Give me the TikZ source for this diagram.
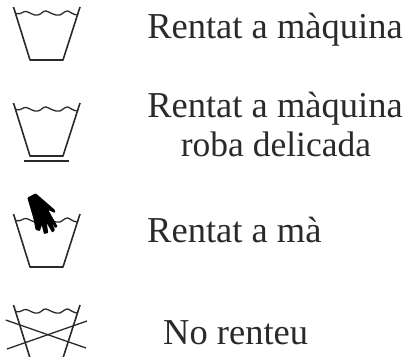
\documentclass[tikz,border=0pt]{standalone}
\usepackage{fontspec}
\setmainfont{Liberation Serif}
\definecolor{ink}{HTML}{2A2A2A}
\tikzset{
  x=1pt,y=-1pt,
  tub/.style={draw=ink,line width=1.6pt,line join=round},
  wave/.style={draw=ink,line width=1.3pt},
  lab/.style={font=\fontsize{36.5}{40}\selectfont,text=ink,inner sep=0pt,anchor=base,align=center},
  wavetub/.pic={
    \draw[tub] (13.5,7) -- (30,60) -- (63,60) -- (80,7);
    \draw[wave] (16,13.5) .. controls (21,15) and (23,11) .. (26,11.5)
       .. controls (30,12) and (33,16) .. (38,15)
       .. controls (42,14) and (43,10.5) .. (46,11)
       .. controls (50,12) and (54,16) .. (60,15)
       .. controls (63,14) and (65,10.5) .. (68,11)
       .. controls (71,12) and (73,15) .. (78,15);
  }
}
\begin{document}
\begin{tikzpicture}
\useasboundingbox (0,0) rectangle (417,356);
\pic at (0,0) {wavetub};
\pic at (0,96) {wavetub};
\draw[draw=ink,line width=1.8pt] (24,161) -- (69,161);
\pic at (0,207) {wavetub};
\pic at (0,298) {wavetub};
\fill[black,rounded corners=0.8pt] (27.3,197.7) -- (35.7,193.3) -- (55,210) -- (55,213) -- (48.3,210) -- (57.7,226.7) -- (55,228) -- (50.7,220) -- (55,230) -- (52.3,232.7) -- (46.7,223) -- (48.3,233) -- (44,234) -- (41.7,225) -- (40,231) -- (35.7,230) -- (33.3,218) -- cycle;
\draw[ink,line width=1.3pt] (5.7,320) -- (86,348);
\draw[ink,line width=1.3pt] (7,349) -- (87,321);
\node[lab] (a) at (275,38) {Rentat a màquina};
\node[lab] (b) at (275,117) {Rentat a màquina};
\node[lab,font=\fontsize{35.5}{39}\selectfont] (c) at (276,156) {roba delicada};
\node[lab,anchor=base west] (d) at (147,242) {Rentat a mà};
\node[lab,anchor=base west] (e) at (163,344) {No renteu};
\end{tikzpicture}
\end{document}
